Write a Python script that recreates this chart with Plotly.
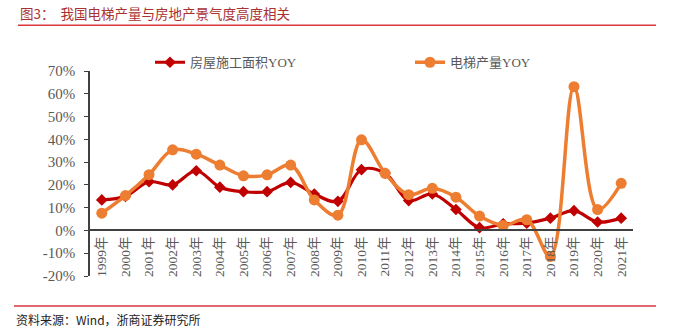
import plotly.graph_objects as go

years = [f"{y}年" for y in range(1999, 2022)]
area_yoy = [13.4, 15.0, 21.4, 20.0, 26.2, 19.0, 17.0, 17.0, 21.1, 16.0, 12.8, 26.7, 25.1,
            13.1, 16.0, 9.2, 1.2, 2.9, 3.2, 5.4, 8.7, 3.7, 5.4]
elev_yoy = [7.6, 15.3, 24.5, 35.4, 33.5, 28.7, 24.0, 24.4, 28.7, 13.4, 6.7, 39.8, 25.1,
            15.7, 18.5, 14.6, 6.3, 2.2, 4.7, -11.4, 63.1, 9.2, 20.7]
yticks = [-20, -10, 0, 10, 20, 30, 40, 50, 60, 70]
ytext = [f"{v}%" for v in yticks]

W, H = 673, 333
L, R, T, B = 90, 40, 70.7, 57

fig = go.Figure()
fig.add_trace(go.Scatter(
    x=years, y=area_yoy, name="房屋施工面积YOY", mode="lines+markers",
    line=dict(color="#C00000", width=3.2, shape="spline", smoothing=1.0),
    marker=dict(symbol="diamond", size=9, color="#C00000"),
    legend="legend", cliponaxis=False))
fig.add_trace(go.Scatter(
    x=years, y=elev_yoy, name="电梯产量YOY", mode="lines+markers",
    line=dict(color="#ED7D31", width=3.5, shape="spline", smoothing=1.0),
    marker=dict(symbol="circle", size=11, color="#ED7D31"),
    legend="legend2", cliponaxis=False))

pw = W - L - R
ph = H - T - B

def px(xp):
    return (xp - L) / pw

def py(yp):
    return (H - B - yp) / ph

serif = "Liberation Serif, Noto Sans CJK SC"
fig.update_layout(
    width=W, height=H, margin=dict(l=L, r=R, t=T, b=B),
    paper_bgcolor="white", plot_bgcolor="white",
    font=dict(family=serif, color="#595959"),
    showlegend=True,
    legend=dict(x=px(150), y=py(62), xanchor="left", yanchor="middle",
                orientation="h", font=dict(size=13, color="#595959", family=serif),
                bgcolor="rgba(0,0,0,0)", itemwidth=30),
    legend2=dict(x=px(410), y=py(62), xanchor="left", yanchor="middle",
                 orientation="h", font=dict(size=13, color="#595959", family=serif),
                 bgcolor="rgba(0,0,0,0)", itemwidth=30),
    xaxis=dict(type="category", range=[-0.5, 22.5], tickangle=-90,
               tickfont=dict(size=13.5, color="#595959", family=serif),
               showgrid=False, showline=True, linecolor="#404040", linewidth=1.5,
               anchor="free", position=20/90, ticks="", zeroline=False),
    yaxis=dict(range=[-20, 70], tickvals=yticks, ticktext=ytext,
               tickfont=dict(size=15, color="#595959", family=serif),
               showgrid=False, showline=True, linecolor="#404040", linewidth=1.5,
               ticks="outside", ticklen=4, tickcolor="#404040", zeroline=False,
               ticklabelstandoff=6),
)

# title, rules, source
fig.add_annotation(x=px(18), y=py(13), xref="paper", yref="paper", xanchor="left", yanchor="middle",
                   text="图3：  我国电梯产量与房地产景气度高度相关", showarrow=False,
                   font=dict(size=13.5, color="#A83232", family="Noto Sans CJK SC"))
fig.add_shape(type="line", xref="paper", yref="paper", x0=px(18), x1=px(656), y0=py(25), y1=py(25),
              line=dict(color="#D9363E", width=1.5))
fig.add_shape(type="line", xref="paper", yref="paper", x0=px(14), x1=px(656), y0=py(306), y1=py(306),
              line=dict(color="#D9363E", width=1.5))
fig.add_annotation(x=px(14), y=py(320), xref="paper", yref="paper", xanchor="left", yanchor="middle",
                   text="资料来源：Wind，浙商证券研究所", showarrow=False,
                   font=dict(size=12, color="#222222", family="Noto Sans CJK SC"))

fig.write_html("out.html")
